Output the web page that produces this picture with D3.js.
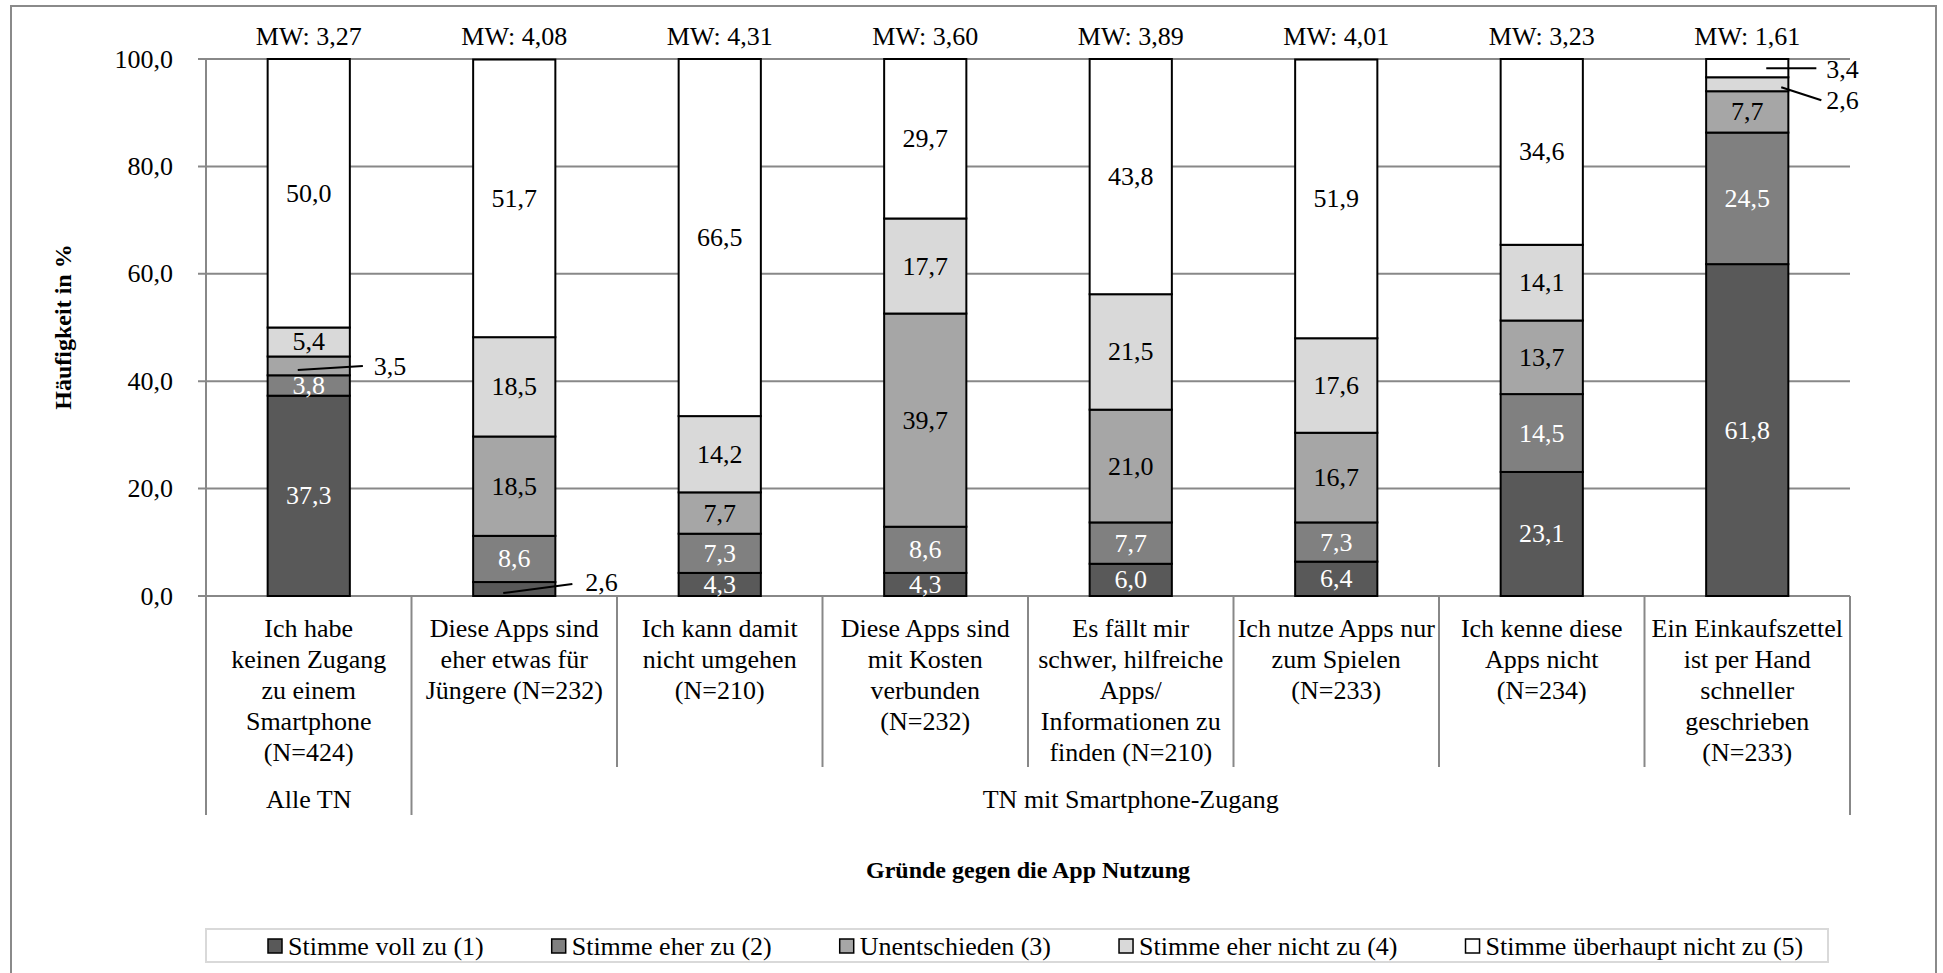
<!DOCTYPE html>
<html>
<head>
<meta charset="utf-8">
<script src="https://cdn.jsdelivr.net/npm/d3@7"></script>
<style>
  body { margin: 0; background: #fff; }
  svg, svg text { font-family: "Liberation Serif", "Tinos", "Times New Roman", Times, "DejaVu Serif", serif; }
</style>
</head>
<body>
<div id="chart"></div>
<script>
// category labels, already wrapped the way they are in the chart
const categories = [
  ["Ich habe", "keinen Zugang", "zu einem", "Smartphone", "(N=424)"],
  ["Diese Apps sind", "eher etwas für", "Jüngere (N=232)"],
  ["Ich kann damit", "nicht umgehen", "(N=210)"],
  ["Diese Apps sind", "mit Kosten", "verbunden", "(N=232)"],
  ["Es fällt mir", "schwer, hilfreiche", "Apps/", "Informationen zu", "finden (N=210)"],
  ["Ich nutze Apps nur", "zum Spielen", "(N=233)"],
  ["Ich kenne diese", "Apps nicht", "(N=234)"],
  ["Ein Einkaufszettel", "ist per Hand", "schneller", "geschrieben", "(N=233)"]
];

const seriesNames = [
  "Stimme voll zu (1)",
  "Stimme eher zu (2)",
  "Unentschieden (3)",
  "Stimme eher nicht zu (4)",
  "Stimme überhaupt nicht zu (5)"
];

// percentages per category
const vollZu = [37.3, 2.6, 4.3, 4.3, 6.0, 6.4, 23.1, 61.8];
const eherZu = [3.8, 8.6, 7.3, 8.6, 7.7, 7.3, 14.5, 24.5];
const unentschieden = [3.5, 18.5, 7.7, 39.7, 21.0, 16.7, 13.7, 7.7];
const eherNicht = [5.4, 18.5, 14.2, 17.7, 21.5, 17.6, 14.1, 2.6];
const ueberhauptNicht = [50.0, 51.7, 66.5, 29.7, 43.8, 51.9, 34.6, 3.4];

// Mittelwerte
const mw = [3.27, 4.08, 4.31, 3.60, 3.89, 4.01, 3.23, 1.61];

const groups = [
  { label: "Alle TN", from: 0, to: 0 },
  { label: "TN mit Smartphone-Zugang", from: 1, to: 7 }
];

const yTicks = [0, 20, 40, 60, 80, 100];

const colors = ["#595959", "#808080", "#a6a6a6", "#d9d9d9", "#ffffff"];
const labelColors = ["#fff", "#fff", "#000", "#000", "#000"];

// labels that sit outside the bar with a leader line
// x0 relative to bar centre, x1/xt relative to bar right edge, y relative to segment middle
const leaders = [
  { cat: 0, s: 2, x0: -11, y0: 4, x1: 13, y1: 0, xt: 24, yt: 1 },
  { cat: 1, s: 0, x0: -11, y0: 4, x1: 17, y1: -5, xt: 30, yt: -7 },
  { cat: 7, s: 4, x0: 19, y0: 0, x1: 28, y1: 0, xt: 38, yt: 1 },
  { cat: 7, s: 3, x0: 34, y0: 3, x1: 33, y1: 16, xt: 38, yt: 16 }
];

const W = 1943, H = 973;
const fmt = v => v.toFixed(1).replace(".", ",");

const svg = d3.select("#chart").append("svg")
  .attr("width", W)
  .attr("height", H)
  .attr("font-family", "'Liberation Serif', Tinos, 'Times New Roman', Times, 'DejaVu Serif', serif");

// outer frame
svg.append("rect")
  .attr("x", 11).attr("y", 6)
  .attr("width", 1925).attr("height", 980)
  .attr("fill", "none")
  .attr("stroke", "#8a8a8a")
  .attr("stroke-width", 2);

const rows = categories.map((c, i) => ({
  key: i,
  v: [vollZu[i], eherZu[i], unentschieden[i], eherNicht[i], ueberhauptNicht[i]]
}));

const x = d3.scaleBand().domain(d3.range(categories.length)).range([206, 1850]).padding(0);
const y = d3.scaleLinear().domain([0, 100]).range([596, 59]);
const barW = x.bandwidth() * 0.4;
const barX = i => x(i) + (x.bandwidth() - barW) / 2;

// gridlines + y labels
const grid = svg.append("g");
grid.selectAll("line")
  .data(yTicks)
  .join("line")
  .attr("x1", 198).attr("x2", 1850)
  .attr("y1", d => y(d)).attr("y2", d => y(d))
  .attr("stroke", "#888")
  .attr("stroke-width", 2);

grid.selectAll("text")
  .data(yTicks)
  .join("text")
  .attr("x", 173)
  .attr("y", d => y(d))
  .attr("text-anchor", "end")
  .attr("dominant-baseline", "central")
  .attr("font-size", 26)
  .text(fmt);

// category separators (long ones bound the groups)
const sepIdx = d3.range(categories.length + 1);
const groupEdges = new Set([0, ...groups.map(g => g.to + 1)]);
svg.append("g").selectAll("line")
  .data(sepIdx)
  .join("line")
  .attr("x1", d => d < categories.length ? x(d) : x.range()[1])
  .attr("x2", d => d < categories.length ? x(d) : x.range()[1])
  .attr("y1", d => d === 0 ? y(100) : y(0))
  .attr("y2", d => groupEdges.has(d) ? 815 : 767)
  .attr("stroke", "#888")
  .attr("stroke-width", 2);

// stacked bars
const stack = d3.stack().keys(d3.range(5)).value((d, k) => d.v[k]);
const layers = stack(rows);

const bars = svg.append("g");
layers.forEach((layer, s) => {
  bars.append("g").selectAll("rect")
    .data(layer)
    .join("rect")
    .attr("x", (d, i) => barX(i))
    .attr("width", barW)
    .attr("y", d => y(d[1]))
    .attr("height", d => y(d[0]) - y(d[1]))
    .attr("fill", colors[s])
    .attr("stroke", "#000")
    .attr("stroke-width", 2);
});

// value labels
const isLeader = (c, s) => leaders.some(l => l.cat === c && l.s === s);
const labels = svg.append("g").attr("font-size", 26).attr("text-anchor", "middle");
layers.forEach((layer, s) => {
  labels.append("g").selectAll("text")
    .data(layer.map((d, i) => ({ d, i })).filter(o => !isLeader(o.i, s)))
    .join("text")
    .attr("x", o => x(o.i) + x.bandwidth() / 2)
    .attr("y", o => y((o.d[0] + o.d[1]) / 2))
    .attr("dominant-baseline", "central")
    .attr("fill", labelColors[s])
    .text(o => fmt(o.d[1] - o.d[0]));
});

leaders.forEach(l => {
  const d = layers[l.s][l.cat];
  const cx = x(l.cat) + x.bandwidth() / 2;
  const rx = barX(l.cat) + barW;
  const my = y((d[0] + d[1]) / 2);
  svg.append("line")
    .attr("x1", cx + l.x0).attr("y1", my + l.y0)
    .attr("x2", rx + l.x1).attr("y2", my + l.y1)
    .attr("stroke", "#000")
    .attr("stroke-width", 2);
  svg.append("text")
    .attr("x", rx + l.xt).attr("y", my + l.yt)
    .attr("dominant-baseline", "central")
    .attr("font-size", 26)
    .text(fmt(d[1] - d[0]));
});

// MW above the bars
svg.append("g").selectAll("text")
  .data(mw)
  .join("text")
  .attr("x", (d, i) => x(i) + x.bandwidth() / 2)
  .attr("y", 45)
  .attr("text-anchor", "middle")
  .attr("font-size", 26)
  .text(d => "MW: " + d.toFixed(2).replace(".", ","));

// category labels
const cat = svg.append("g").attr("font-size", 26).attr("text-anchor", "middle");
categories.forEach((lines, i) => {
  cat.append("text")
    .selectAll("tspan")
    .data(lines)
    .join("tspan")
    .attr("x", x(i) + x.bandwidth() / 2)
    .attr("y", (d, j) => 637 + j * 31)
    .text(d => d);
});

// group labels
svg.append("g").selectAll("text")
  .data(groups)
  .join("text")
  .attr("x", g => (x(g.from) + x(g.to) + x.bandwidth()) / 2)
  .attr("y", 808)
  .attr("text-anchor", "middle")
  .attr("font-size", 26)
  .text(g => g.label);

// axis titles
svg.append("text")
  .attr("transform", "translate(71,327) rotate(-90)")
  .attr("text-anchor", "middle")
  .attr("font-size", 24)
  .attr("font-weight", "bold")
  .text("Häufigkeit in %");

svg.append("text")
  .attr("x", (x.range()[0] + x.range()[1]) / 2)
  .attr("y", 878)
  .attr("text-anchor", "middle")
  .attr("font-size", 24)
  .attr("font-weight", "bold")
  .text("Gründe gegen die App Nutzung");

// legend
const legBox = { x: 206, y: 929, w: 1622, h: 33 };
svg.append("rect")
  .attr("x", legBox.x).attr("y", legBox.y)
  .attr("width", legBox.w).attr("height", legBox.h)
  .attr("fill", "#fff")
  .attr("stroke", "#d9d9d9")
  .attr("stroke-width", 2);

const leg = svg.append("g");
const items = leg.selectAll("g")
  .data(seriesNames)
  .join("g");
items.append("rect")
  .attr("width", 14).attr("height", 14)
  .attr("y", legBox.y + 10)
  .attr("fill", (d, i) => colors[i])
  .attr("stroke", "#000")
  .attr("stroke-width", 1.5);
items.append("text")
  .attr("x", 20)
  .attr("y", legBox.y + 17)
  .attr("dominant-baseline", "central")
  .attr("font-size", 26)
  .text(d => d);

const gap = 68;
const widths = [];
items.each(function () { widths.push(20 + d3.select(this).select("text").node().getComputedTextLength()); });
let cur = legBox.x + 62;
items.each(function (d, i) {
  d3.select(this).attr("transform", `translate(${cur},0)`);
  cur += widths[i] + gap;
});
</script>
</body>
</html>
